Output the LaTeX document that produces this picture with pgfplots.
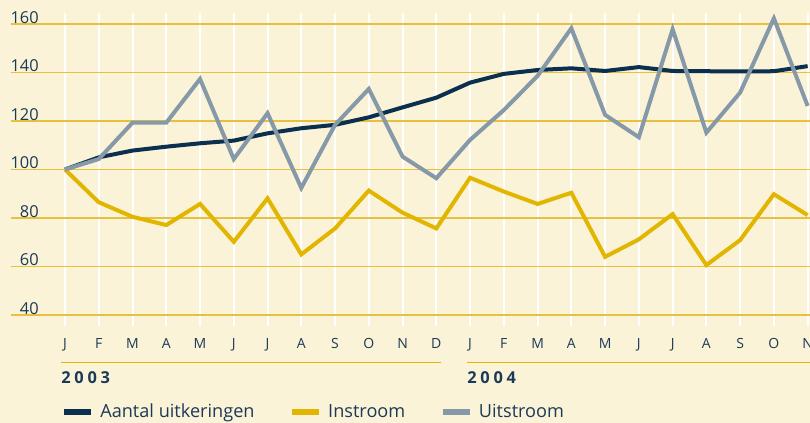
\documentclass[border=0pt]{standalone}
\usepackage{fontspec}
\setmainfont{Open Sans}
\usepackage{pgfplots}
\pgfplotsset{compat=1.18}
\definecolor{bg}{HTML}{FBF3D8}
\definecolor{navy}{HTML}{0B2F4E}
\definecolor{txt}{HTML}{1B3A57}
\definecolor{gold}{HTML}{E2B600}
\definecolor{grey}{HTML}{8699A8}
\definecolor{gridgold}{HTML}{E8C040}
\begin{document}
\begin{tikzpicture}
\begin{scope}[x=0.75pt,y=-0.75pt,shift={(-8.25pt,244.5pt)}]
  \fill[bg] (0,0) rectangle (810,423);
\end{scope}
\begin{axis}[
  at={(0,0)}, anchor=south west,
  scale only axis, width=599.25pt, height=234.75pt,
  xmin=-1.6, xmax=22.07, ymin=35.5, ymax=164.5,
  axis line style={draw=none}, tick style={draw=none},
  xtick={0,...,22},
  xticklabels={J,F,M,A,M,J,J,A,S,O,N,D,J,F,M,A,M,J,J,A,S,O,N},
  ytick={40,60,...,160},
  /pgf/number format/assume math mode=true,
  xmajorgrids, ymajorgrids,
  x grid style={white, line width=1.5pt},
  y grid style={gridgold, line width=1pt},
  xticklabel style={anchor=base, inner sep=0pt, yshift=-17.25pt, font=\fontsize{10.5}{12}\selectfont, text=txt},
  yticklabel style={anchor=base east, inner sep=0pt, xshift=21pt, yshift=0.6pt, font=\fontsize{12.3}{14}\selectfont, text=txt},
  legend image code/.code={\draw[#1, line width=4.5pt] (0pt,0pt) -- (20.25pt,0pt);},
  legend style={at={(axis description cs:0.0626,-0.2748)}, anchor=west, draw=none, fill=none, inner sep=0pt,
    nodes={inner sep=0pt, text=txt}, font=\fontsize{13.6}{16}\selectfont,
    /tikz/every odd column/.append style={column sep=4.5pt},
    /tikz/every even column/.append style={column sep=26pt}},
  legend columns=3,
]
\addplot[navy, line width=3pt] coordinates {
(0,100) (1,105) (2,107.8) (3,109.4) (4,110.8) (5,111.9) (6,114.9) (7,117) (8,118.4) (9,121.5) (10,125.6) (11,129.6)
(12,135.8) (13,139.4) (14,141) (15,141.7) (16,140.6) (17,142.2) (18,140.6) (19,140.5) (20,140.4) (21,140.5) (22,142.6)};
\addlegendentry{Aantal uitkeringen}
\addplot[gold, line width=3pt] coordinates {
(0,100) (1,86.5) (2,80.5) (3,77.1) (4,85.8) (5,70.2) (6,88.1) (7,65) (8,75.7) (9,91.3) (10,82.2) (11,75.7)
(12,96.6) (13,90.9) (14,85.8) (15,90.4) (16,64) (17,71.2) (18,81.6) (19,60.6) (20,70.9) (21,89.8) (22,81.2)};
\addlegendentry{Instroom}
\addplot[grey, line width=3pt] coordinates {
(0,100) (1,104.3) (2,119.3) (3,119.3) (4,137.3) (5,104.3) (6,123.2) (7,92.4) (8,118.4) (9,133.2) (10,105.3) (11,96.4)
(12,112.2) (13,124.5) (14,138.6) (15,158.2) (16,122.5) (17,113.3) (18,157.8) (19,115.2) (20,131.7) (21,162.3) (22,126.2)};
\addlegendentry{Uitstroom}
\end{axis}
\begin{scope}[x=0.75pt,y=-0.75pt,shift={(-8.25pt,244.5pt)}]
  \draw[gold, line width=0.9pt] (61,362.7) -- (441,362.7);
  \draw[gold, line width=0.9pt] (467,362.7) -- (810,362.7);
  \node[anchor=base west, inner sep=0pt, text=txt, font=\fontsize{12.3}{14}\selectfont\bfseries\addfontfeature{LetterSpace=23}] at (61,383.3) {2003};
  \node[anchor=base west, inner sep=0pt, text=txt, font=\fontsize{12.3}{14}\selectfont\bfseries\addfontfeature{LetterSpace=23}] at (467,383.3) {2004};
  \pgfresetboundingbox
  \path[use as bounding box] (0,0) rectangle (810,423);
\end{scope}
\end{tikzpicture}
\end{document}
